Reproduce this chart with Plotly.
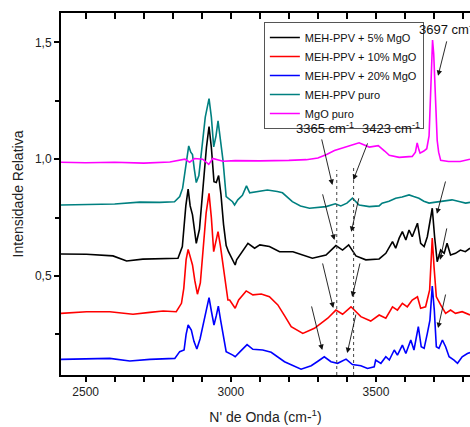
import plotly.graph_objects as go

# ---------------- data ----------------
mgo_x = [2415, 2500, 2600, 2700, 2790, 2842, 2858, 2875, 2903, 2924, 2938, 2973, 3015, 3100, 3200,
         3260, 3300, 3330, 3357, 3400, 3442, 3477, 3508, 3530, 3546, 3580, 3625, 3636, 3642, 3648,
         3652, 3665, 3675, 3683, 3688, 3692, 3695, 3699, 3704, 3708, 3711, 3716, 3723, 3750, 3790, 3824]
mgo_y = [0.987, 0.985, 0.987, 0.983, 0.988, 1.000, 0.987, 1.003, 1.000, 0.978, 1.003, 0.991, 0.994, 0.993, 0.995,
         0.998, 1.005, 1.020, 1.037, 1.055, 1.070, 1.052, 1.058, 1.035, 1.017, 1.008, 1.012, 1.030, 1.070, 1.040,
         1.026, 1.035, 1.045, 1.100, 1.300, 1.480, 1.510, 1.450, 1.320, 1.200, 1.080, 1.030, 0.995, 0.990, 0.990, 1.000]

puro_x = [2415, 2500, 2600, 2686, 2755, 2806, 2824, 2834, 2847, 2855, 2862, 2868, 2874, 2881, 2890,
          2900, 2912, 2925, 2933, 2941, 2949, 2956, 2963, 2973, 2984, 2996, 3006, 3013, 3024, 3040,
          3054, 3065, 3087, 3126, 3160, 3178, 3212, 3240, 3271, 3300, 3328, 3360, 3379, 3400, 3419,
          3442, 3477, 3511, 3521, 3545, 3568, 3590, 3614, 3630, 3648, 3665, 3683, 3700, 3717, 3740,
          3762, 3790, 3809, 3824]
puro_y = [0.804, 0.806, 0.808, 0.816, 0.815, 0.818, 0.840, 0.876, 0.996, 1.057, 1.030, 1.020, 0.960, 0.900, 0.930,
          1.050, 1.180, 1.259, 1.180, 1.053, 1.100, 1.164, 1.100, 0.996, 0.840, 0.826, 0.818, 0.804, 0.826, 0.845,
          0.886, 0.856, 0.861, 0.868, 0.862, 0.856, 0.818, 0.800, 0.790, 0.795, 0.797, 0.809, 0.800, 0.812, 0.833,
          0.804, 0.797, 0.800, 0.812, 0.820, 0.833, 0.838, 0.847, 0.840, 0.833, 0.820, 0.812, 0.815, 0.818, 0.822,
          0.826, 0.818, 0.812, 0.815]

p5_x = [2415, 2503, 2594, 2641, 2697, 2778, 2818, 2833, 2845, 2853, 2860, 2868, 2875, 2881, 2892,
        2905, 2916, 2925, 2933, 2942, 2950, 2958, 2966, 2975, 2984, 2992, 3003, 3015, 3020, 3036,
        3059, 3082, 3100, 3133, 3168, 3214, 3250, 3281, 3328, 3362, 3385, 3406, 3431, 3465, 3511,
        3534, 3557, 3568, 3580, 3591, 3603, 3614, 3625, 3643, 3654, 3666, 3677, 3688, 3694, 3702,
        3711, 3723, 3735, 3745, 3757, 3774, 3791, 3808, 3824]
p5_y = [0.594, 0.593, 0.586, 0.564, 0.572, 0.576, 0.576, 0.626, 0.800, 0.872, 0.800, 0.762, 0.700, 0.640, 0.700,
        0.900, 1.050, 1.140, 1.050, 0.904, 0.900, 0.930, 0.850, 0.720, 0.630, 0.604, 0.576, 0.547, 0.569, 0.600,
        0.640, 0.619, 0.633, 0.626, 0.604, 0.604, 0.590, 0.576, 0.590, 0.630, 0.611, 0.633, 0.586, 0.569, 0.573,
        0.597, 0.647, 0.619, 0.662, 0.690, 0.654, 0.697, 0.668, 0.726, 0.640, 0.626, 0.668, 0.740, 0.790, 0.668,
        0.561, 0.611, 0.597, 0.640, 0.590, 0.597, 0.611, 0.604, 0.619]

p10_x = [2415, 2503, 2583, 2663, 2721, 2767, 2812, 2830, 2838, 2846, 2853, 2860, 2868, 2876, 2885,
         2895, 2905, 2915, 2925, 2933, 2941, 2949, 2956, 2964, 2973, 2982, 2990, 2996, 3015, 3027,
         3053, 3076, 3105, 3133, 3162, 3185, 3208, 3248, 3288, 3334, 3362, 3385, 3414, 3448, 3482,
         3511, 3534, 3557, 3574, 3591, 3608, 3625, 3643, 3654, 3671, 3685, 3690, 3694, 3700, 3708,
         3723, 3740, 3757, 3774, 3797, 3824]
p10_y = [0.340, 0.347, 0.347, 0.336, 0.344, 0.350, 0.347, 0.383, 0.447, 0.570, 0.614, 0.580, 0.547, 0.480, 0.422,
         0.470, 0.620, 0.770, 0.854, 0.750, 0.604, 0.650, 0.690, 0.630, 0.547, 0.450, 0.397, 0.397, 0.362, 0.397,
         0.436, 0.419, 0.423, 0.411, 0.376, 0.330, 0.283, 0.254, 0.276, 0.319, 0.354, 0.336, 0.368, 0.326, 0.307,
         0.333, 0.319, 0.368, 0.354, 0.383, 0.368, 0.397, 0.411, 0.362, 0.368, 0.440, 0.580, 0.662, 0.540, 0.411,
         0.376, 0.340, 0.354, 0.340, 0.347, 0.333]

p20_x = [2415, 2503, 2583, 2652, 2721, 2807, 2824, 2839, 2846, 2853, 2864, 2873, 2883, 2894, 2904,
         2915, 2925, 2933, 2942, 2950, 2957, 2965, 2973, 2984, 3007, 3015, 3032, 3056, 3076, 3110,
         3139, 3185, 3242, 3277, 3300, 3322, 3345, 3368, 3397, 3419, 3448, 3471, 3494, 3499, 3517,
         3534, 3546, 3563, 3574, 3591, 3603, 3620, 3631, 3646, 3656, 3666, 3677, 3686, 3694, 3701,
         3708, 3717, 3729, 3740, 3752, 3769, 3781, 3797, 3815, 3824]
p20_y = [0.143, 0.144, 0.147, 0.136, 0.143, 0.147, 0.176, 0.183, 0.250, 0.290, 0.268, 0.220, 0.187, 0.230, 0.290,
         0.360, 0.407, 0.350, 0.290, 0.330, 0.371, 0.310, 0.247, 0.176, 0.161, 0.154, 0.176, 0.206, 0.186, 0.183,
         0.173, 0.133, 0.101, 0.116, 0.135, 0.154, 0.133, 0.126, 0.144, 0.121, 0.116, 0.104, 0.111, 0.140, 0.126,
         0.154, 0.140, 0.183, 0.161, 0.204, 0.168, 0.226, 0.183, 0.283, 0.197, 0.190, 0.254, 0.311, 0.457, 0.354,
         0.197, 0.190, 0.226, 0.197, 0.154, 0.140, 0.126, 0.154, 0.168, 0.172]

series_names = ["MEH-PPV + 5% MgO", "MEH-PPV + 10% MgO", "MEH-PPV + 20% MgO", "MEH-PPV puro", "MgO puro"]
series_colors = ["#000000", "#ff0000", "#0000ff", "#008080", "#ff00ff"]

# marked bands (cm-1)
bands = [3365, 3423]
band_top = [0.954, 0.967]

# arrows: (tail_x, tail_y, head_x, head_y)
arrows = [
    (3312, 1.091, 3350, 0.890),
    (3473, 1.074, 3422, 0.911),
    (3745, 1.511, 3714, 1.357),
    (3315, 0.856, 3357, 0.654),
    (3442, 0.839, 3415, 0.689),
    (3741, 0.911, 3710, 0.766),
    (3745, 0.710, 3721, 0.569),
    (3315, 0.560, 3353, 0.363),
    (3446, 0.560, 3418, 0.410),
    (3741, 0.427, 3714, 0.277),
    (3277, 0.376, 3315, 0.183),
    (3432, 0.341, 3401, 0.170),
]

labels = [("3365 cm<sup>-1</sup>", 3326, 1.134, "center"),
          ("3423 cm<sup>-1</sup>", 3552, 1.134, "center"),
          ("3697 cm<sup>-1</sup>", 3640, 1.556, "left")]

x_range = [2415, 3824]
y_range = [0.076, 1.626]
FONT = "Liberation Sans, Arial, sans-serif"

fig = go.Figure()
data = [(p5_x, p5_y), (p10_x, p10_y), (p20_x, p20_y), (puro_x, puro_y), (mgo_x, mgo_y)]
for (xs, ys), name, col in zip(data, series_names, series_colors):
    fig.add_trace(go.Scatter(x=xs, y=ys, mode="lines", name=name,
                             line=dict(color=col, width=1.6)))

# dummy trace for the top axis
fig.add_trace(go.Scatter(x=[x_range[0]], y=[None], xaxis="x2", showlegend=False, hoverinfo="skip"))

for bx, bt in zip(bands, band_top):
    fig.add_shape(type="line", x0=bx, x1=bx, y0=y_range[0], y1=bt, xref="x", yref="y",
                  line=dict(color="#444444", width=1, dash="dot"))

for tx, ty, hx, hy in arrows:
    fig.add_annotation(x=hx, y=hy, ax=tx, ay=ty, xref="x", yref="y", axref="x", ayref="y",
                       text="", showarrow=True, arrowhead=2, arrowsize=1.2, arrowwidth=0.9,
                       arrowcolor="#111111")

for txt, lx, ly, anc in labels:
    fig.add_annotation(x=lx, y=ly, xref="x", yref="y", text=txt, showarrow=False,
                       xanchor=anc, yanchor="middle",
                       font=dict(family=FONT, size=13, color="#111111"))

fig.update_layout(
    width=470, height=427,
    margin=dict(l=61, r=0, t=13, b=52),
    paper_bgcolor="white", plot_bgcolor="white",
    separators=",.",
    showlegend=True,
    legend=dict(x=0.496, y=0.975, xanchor="left", yanchor="top",
                bgcolor="white", bordercolor="#555555", borderwidth=1,
                font=dict(family=FONT, size=11, color="#111111"),
                tracegroupgap=0, itemwidth=30),
    xaxis=dict(range=x_range, showgrid=False, zeroline=False,
               showline=True, linecolor="black", linewidth=2,
               ticks="outside", ticklen=5, tickwidth=1.5, tickcolor="black",
               tick0=2500, dtick=500,
               minor=dict(ticks="outside", ticklen=5, tickwidth=1.5, tickcolor="black", dtick=100, tick0=2500),
               tickfont=dict(family=FONT, size=12, color="#222222"),
               title=dict(text="N' de Onda (cm-<sup>1</sup>)", font=dict(family=FONT, size=14, color="#222222"),
                          standoff=14)),
    xaxis2=dict(range=x_range, overlaying="x", side="top", anchor="y", showgrid=False, zeroline=False,
                showline=True, linecolor="black", linewidth=2,
                ticks="inside", ticklen=6, tickwidth=1.5, tickcolor="black",
                tick0=2500, dtick=100, showticklabels=False),
    yaxis=dict(range=y_range, showgrid=False, zeroline=False,
               showline=True, linecolor="black", linewidth=2,
               ticks="outside", ticklen=5, tickwidth=1.5, tickcolor="black",
               tick0=0.5, dtick=0.5, tickformat=".1f",
               minor=dict(ticks="outside", ticklen=4, tickwidth=1.5, tickcolor="black", dtick=0.25, tick0=0.25),
               tickfont=dict(family=FONT, size=12, color="#222222"),
               title=dict(text="Intensidade Relativa", font=dict(family=FONT, size=14, color="#222222"),
                          standoff=8)),
)

fig.write_html("out.html")
